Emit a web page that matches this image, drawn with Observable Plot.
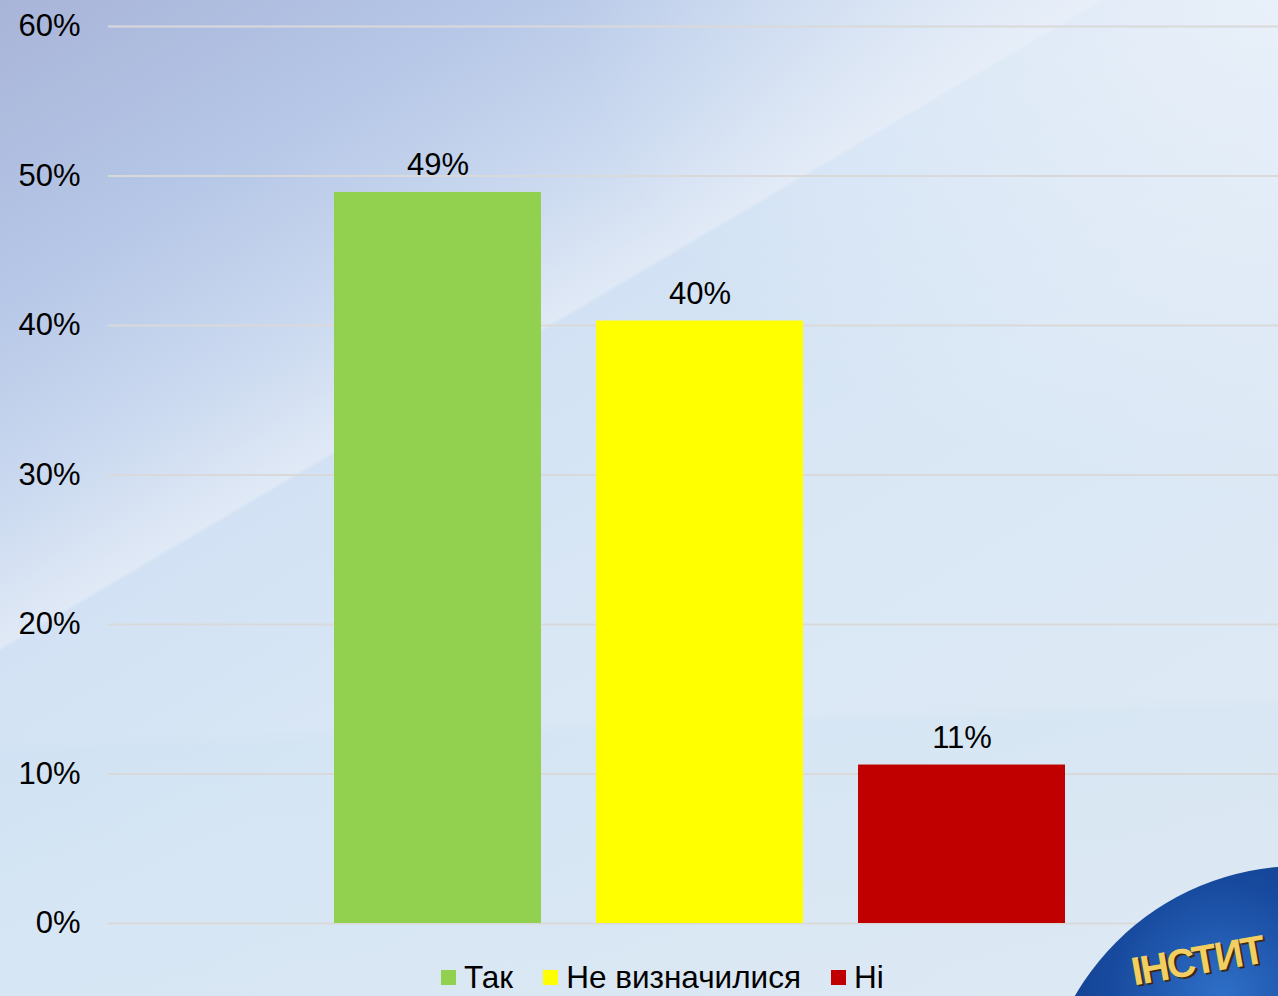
<!DOCTYPE html>
<html>
<head>
<meta charset="utf-8">
<script src="https://cdn.jsdelivr.net/npm/d3@7"></script>
<script src="https://cdn.jsdelivr.net/npm/@observablehq/plot@0.6"></script>
<style>
  html, body { margin: 0; padding: 0; }
  #page {
    position: relative; width: 1278px; height: 996px; overflow: hidden;
    font-family: "Liberation Sans", Arial, sans-serif;
    background:
      radial-gradient(ellipse 700px 500px at 100% 0%, rgba(236,242,250,0.85), rgba(236,242,250,0) 100%),
      linear-gradient(178deg, rgba(255,255,255,0) 0px, rgba(255,255,255,0) 740px, rgba(185,218,236,0.14) 752px, rgba(190,220,236,0.08) 996px),
      linear-gradient(149.5deg, #a8b4d8 0%, #b6c7e7 17%, #cbdaf0 29%, #e0e9f6 37%, #d2e2f4 37.25%, #d9e7f5 55%, #e0eaf4 100%);
  }
  #chart { position: absolute; left: 0; top: 0; }
  #legend {
    position: absolute; top: 962px; left: 441px; height: 30px;
    display: flex; align-items: center; font-size: 31.5px; line-height: 30px; color: #000;
    white-space: nowrap;
  }
  #legend .item { display: flex; align-items: center; margin-right: 30px; }
  #legend .sw { width: 15px; height: 15px; margin-right: 8px; }
  #logo {
    position: absolute; left: 1040px; top: 866px; width: 520px; height: 520px; border-radius: 50%;
    background: radial-gradient(circle at 35% 25%, #2f6fc8 0%, #174a9e 22%, #0c2f76 50%, #061a4a 100%);
  }
  #logo span {
    position: absolute; left: 88px; top: 86px; font-family: "Liberation Sans", Arial, sans-serif;
    font-weight: bold; font-size: 40px; line-height: 1; color: #f3cf63; white-space: nowrap;
    transform: rotate(-10deg); transform-origin: left top; letter-spacing: -2px;
    text-shadow: 2px 2px 0 #3a2a10;
  }
</style>
</head>
<body>
<div id="page">
  <div id="chart"></div>
  <div id="legend"></div>
  <div id="logo"><span>ІНСТИТ</span></div>
</div>
<script>
const categories = ["Так", "Не визначилися", "Ні"];
const values = [48.9, 40.3, 10.6];
const colors = ["#92d050", "#ffff00", "#c00000"];
const yTicks = [0, 10, 20, 30, 40, 50, 60];

const data = categories.map((c, i) => ({cat: c, value: values[i]}));

const chart = Plot.plot({
  width: 1278,
  height: 955,
  marginLeft: 108,
  marginRight: 0,
  marginTop: 26,
  marginBottom: 32,
  style: {background: "transparent", fontFamily: "'Liberation Sans', Arial, sans-serif", fontSize: "31px", color: "#000", overflow: "visible"},
  x: {domain: categories, range: [334, 1065], paddingInner: 0.21, paddingOuter: 0, axis: null},
  y: {domain: [0, 60], label: null},
  color: {domain: categories, range: colors},
  marks: [
    Plot.ruleY(yTicks, {stroke: "#d9d9d9", strokeWidth: 2}),
    Plot.barY(data, {x: "cat", y: "value", fill: "cat"}),
    Plot.text(data, {x: "cat", y: "value", text: d => Math.round(d.value) + "%", dy: -17, lineAnchor: "bottom", fill: "#000", fontSize: 31}),
    Plot.axisY(yTicks, {tickSize: 0, tickPadding: 28, tickFormat: d => d + "%", label: null, fontSize: 31, fill: "#000"})
  ]
});
document.getElementById("chart").appendChild(chart);

const legend = document.getElementById("legend");
categories.forEach((c, i) => {
  const item = document.createElement("div");
  item.className = "item";
  const sw = document.createElement("div");
  sw.className = "sw";
  sw.style.background = colors[i];
  const t = document.createElement("span");
  t.textContent = c;
  item.appendChild(sw);
  item.appendChild(t);
  legend.appendChild(item);
});
</script>
</body>
</html>
